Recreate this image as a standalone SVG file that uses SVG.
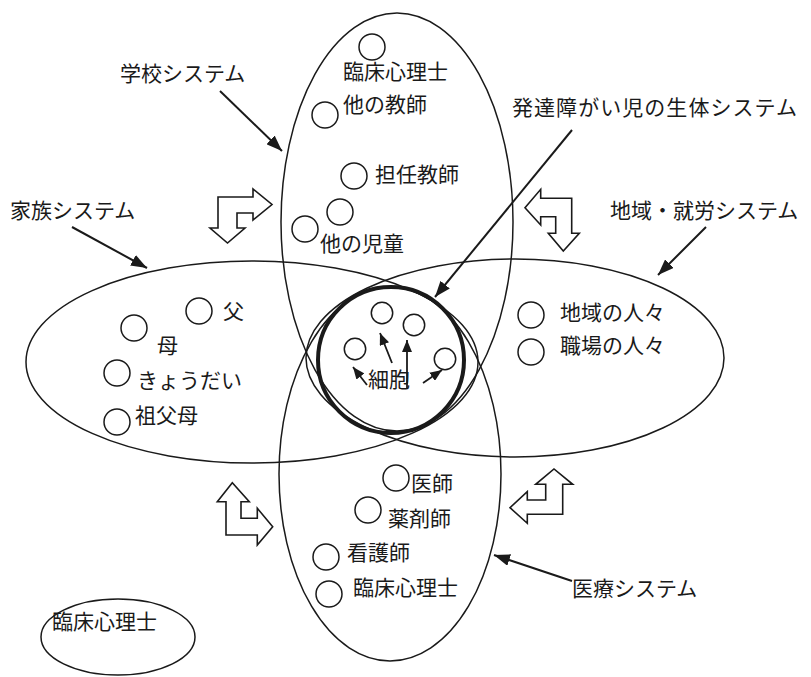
<svg xmlns="http://www.w3.org/2000/svg" width="811" height="677" viewBox="0 0 811 677">
<defs>
<style>
.sys{fill:none;stroke:#1a1a1a;stroke-width:1.5}
.dot{fill:none;stroke:#1a1a1a;stroke-width:1.5}
.blk{fill:#fff;stroke:#1a1a1a;stroke-width:1.6;stroke-linejoin:miter}
.t{font-family:"Noto Sans CJK JP","Noto Sans CJK SC",sans-serif;font-size:21px;fill:#1a1a1a}
.ar{stroke:#1a1a1a;stroke-width:2;fill:none}
.ars{stroke:#1a1a1a;stroke-width:1.8;fill:none}
</style>
<marker id="big" viewBox="0 0 16 12" refX="16" refY="6" markerWidth="16" markerHeight="12" markerUnits="userSpaceOnUse" orient="auto">
<path d="M0,0 L16,6 L0,12 Z" fill="#1a1a1a"/>
</marker>
<marker id="sm" viewBox="0 0 12 10" refX="12" refY="5" markerWidth="12" markerHeight="10" markerUnits="userSpaceOnUse" orient="auto">
<path d="M0,0 L12,5 L0,10 Z" fill="#1a1a1a"/>
</marker>
</defs>
<rect width="811" height="677" fill="#fff"/>

<g id="school-system">
<ellipse class="sys" cx="397" cy="222" rx="116" ry="209"/>
<circle class="dot" cx="372" cy="47" r="13"/>
<text class="t" x="343" y="79">臨床心理士</text>
<circle class="dot" cx="325" cy="115" r="13"/>
<text class="t" x="343" y="112">他の教師</text>
<circle class="dot" cx="354" cy="176" r="13"/>
<text class="t" x="375" y="182">担任教師</text>
<circle class="dot" cx="340" cy="212" r="13"/>
<circle class="dot" cx="305" cy="229" r="13"/>
<text class="t" x="320" y="251">他の児童</text>
</g>

<g id="medical-system">
<ellipse class="sys" cx="390" cy="474" rx="111" ry="187"/>
<circle class="dot" cx="396" cy="478" r="13"/>
<text class="t" x="411" y="491">医師</text>
<circle class="dot" cx="368" cy="510" r="13"/>
<text class="t" x="388" y="526">薬剤師</text>
<circle class="dot" cx="326" cy="557" r="13"/>
<text class="t" x="347" y="560">看護師</text>
<circle class="dot" cx="329" cy="594" r="13"/>
<text class="t" x="353" y="595">臨床心理士</text>
</g>

<g id="family-system">
<ellipse class="sys" cx="252" cy="362" rx="226" ry="101"/>
<circle class="dot" cx="199" cy="311" r="13"/>
<text class="t" x="223" y="319">父</text>
<circle class="dot" cx="134" cy="328" r="13"/>
<text class="t" x="157" y="353">母</text>
<circle class="dot" cx="117" cy="373" r="13"/>
<text class="t" x="137" y="388">きょうだい</text>
<circle class="dot" cx="117" cy="422" r="13"/>
<text class="t" x="135" y="423">祖父母</text>
</g>

<g id="community-system">
<ellipse class="sys" cx="515" cy="358" rx="209" ry="99"/>
<circle class="dot" cx="531" cy="315" r="13"/>
<text class="t" x="560" y="320">地域の人々</text>
<circle class="dot" cx="531" cy="352" r="13"/>
<text class="t" x="560" y="353">職場の人々</text>
</g>

<g id="body-system">
<circle cx="391" cy="360" r="73" fill="none" stroke="#1a1a1a" stroke-width="4"/>
<circle class="dot" cx="382" cy="313" r="10.7"/>
<circle class="dot" cx="414" cy="325" r="10.7"/>
<circle class="dot" cx="355" cy="349" r="10.7"/>
<circle class="dot" cx="445" cy="359" r="10.7"/>
<text class="t" x="368" y="387">細胞</text>
</g>

<g id="psychologist-outside">
<ellipse class="sys" cx="118" cy="637" rx="77" ry="38"/>
<text class="t" x="52" y="629">臨床心理士</text>
</g>

<g id="labels">
<text class="t" x="120" y="81">学校システム</text>
<text class="t" x="512" y="115" textLength="285" lengthAdjust="spacing">発達障がい児の生体システム</text>
<text class="t" x="10" y="218">家族システム</text>
<text class="t" x="610" y="218">地域・就労システム</text>
<text class="t" x="572" y="596">医療システム</text>
</g>

<g id="connectors">
<line class="ar" x1="220" y1="91" x2="282" y2="151" marker-end="url(#big)"/>
<line class="ar" x1="72" y1="227" x2="147" y2="268" marker-end="url(#big)"/>
<line class="ar" x1="572" y1="130" x2="435" y2="297" marker-end="url(#big)"/>
<line class="ar" x1="706" y1="227" x2="658" y2="275" marker-end="url(#big)"/>
<line class="ar" x1="572" y1="581" x2="494" y2="555" marker-end="url(#big)"/>
<line class="ars" x1="392" y1="363" x2="380" y2="333" marker-end="url(#sm)"/>
<line class="ars" x1="407" y1="389" x2="407" y2="340" marker-end="url(#sm)"/>
<line class="ars" x1="367" y1="385" x2="353" y2="367" marker-end="url(#sm)"/>
<line class="ars" x1="423" y1="383" x2="442" y2="370" marker-end="url(#sm)"/>
<polygon class="blk" points="218,197 253,197 253,189 272,204.5 253,220 253,213 237,213 237,228 245,228 227.5,243 210,228 218,228"/>
<polygon class="blk" points="571.7,198.3 540.7,198.3 540.7,189.3 525,207.7 540.7,225 540.7,216.7 555.7,216.7 555.7,233.3 548.3,233.3 563.3,251 579.3,233.3 571.7,233.3"/>
<polygon class="blk" points="226,535 226,501.7 217.3,501.7 232.3,482.7 249.3,501.7 241,501.7 241,518.3 257.3,518.3 257.3,508.3 272.7,526.7 257.3,545 257.3,535"/>
<polygon class="blk" points="562.7,514.3 562.7,484.3 572.7,484.3 554,469 535.7,484.3 545.7,484.3 545.7,500 527.3,500 527.3,491.7 510,507.7 527.3,523.3 527.3,514.3"/>
</g>
</svg>
